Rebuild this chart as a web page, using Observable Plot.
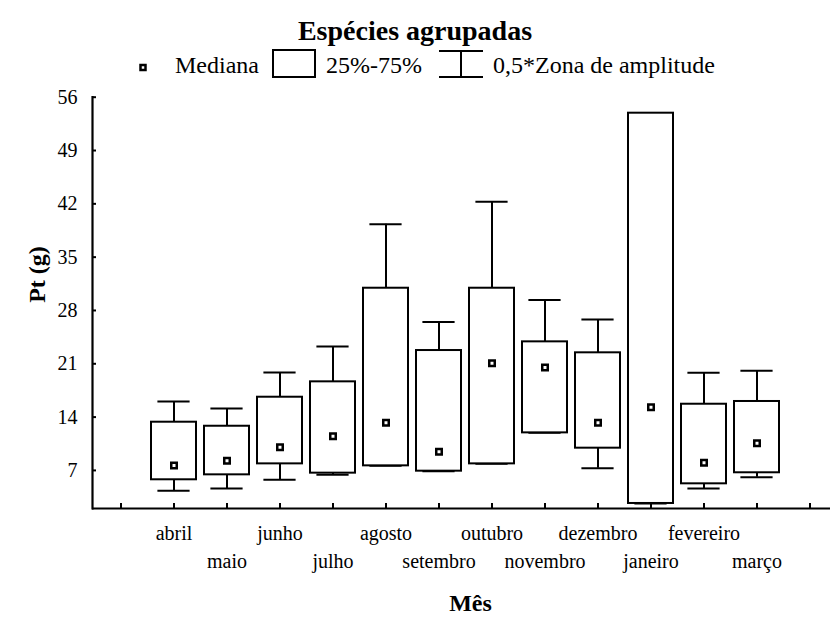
<!DOCTYPE html>
<html>
<head>
<meta charset="utf-8">
<script src="https://cdn.jsdelivr.net/npm/d3@7"></script>
<script src="https://cdn.jsdelivr.net/npm/@observablehq/plot@0.6"></script>
<style>
  body { margin: 0; background: #fff; }
  #wrap { position: relative; width: 830px; height: 618px; font-family: "Liberation Serif", serif; background: #fff; }
  #head { position: absolute; left: 0; top: 0; }
  #chart { position: absolute; left: 0; top: 84px; }
</style>
</head>
<body>
<div id="wrap"><svg id="head" width="830" height="84"></svg><div id="chart"></div></div>
<script>
// ---- data ----
const meses   = ["abril","maio","junho","julho","agosto","setembro","outubro","novembro","dezembro","janeiro","fevereiro","março"];
const mediana = [7.64, 8.26, 10.05, 11.49, 13.25, 9.44, 21.08, 20.51, 13.25, 15.3, 8.0, 10.57];
const q1      = [5.77, 6.42, 7.86, 6.64, 7.6, 6.9, 7.86, 11.93, 9.92, 2.66, 5.24, 6.69];
const q3      = [13.33, 12.8, 16.61, 18.63, 30.92, 22.74, 30.92, 23.88, 22.44, 53.9, 15.69, 16.05];
const minimo  = [4.32, 4.63, 5.77, 6.42, 7.6, 6.9, 7.86, 11.93, 7.29, 2.66, 4.63, 6.11];
const maximo  = [16.05, 15.13, 19.85, 23.27, 39.32, 26.5, 42.26, 29.39, 26.81, 53.9, 19.81, 20.07];
const yTicks  = [7, 14, 21, 28, 35, 42, 49, 56];
const titulo  = "Espécies agrupadas";
const legenda = ["Mediana", "25%-75%", "0,5*Zona de amplitude"];
const xLabel  = "Mês";
const yLabel  = "Pt (g)";

const data = meses.map((m, i) => ({mes: m, mediana: mediana[i], q1: q1[i], q3: q3[i], lo: minimo[i], hi: maximo[i]}));
const slots = ["", ...meses, " "]; // empty tick slots at both ends

// ---- title + legend (above the plot) ----
const head = d3.select("#head");
head.append("text").attr("x", 415).attr("y", 40).attr("text-anchor", "middle")
  .attr("font-family", "Liberation Serif").attr("font-weight", "bold").attr("font-size", 28).text(titulo);
const lg = head.append("g").attr("font-family", "Liberation Serif").attr("font-size", 24);
lg.append("rect").attr("x", 140.5).attr("y", 65).attr("width", 5).attr("height", 5)
  .attr("fill", "white").attr("stroke", "black").attr("stroke-width", 2.5);
lg.append("text").attr("x", 175).attr("y", 73).text(legenda[0]);
lg.append("rect").attr("x", 273).attr("y", 50).attr("width", 42).attr("height", 27)
  .attr("fill", "white").attr("stroke", "black").attr("stroke-width", 2);
lg.append("text").attr("x", 326).attr("y", 73).text(legenda[1]);
const wk = lg.append("g").attr("stroke", "black").attr("stroke-width", 2);
wk.append("line").attr("x1", 439).attr("x2", 483).attr("y1", 51).attr("y2", 51);
wk.append("line").attr("x1", 439).attr("x2", 483).attr("y1", 77).attr("y2", 77);
wk.append("line").attr("x1", 461).attr("x2", 461).attr("y1", 51).attr("y2", 77);
lg.append("text").attr("x", 493).attr("y", 73).text(legenda[2]);

// ---- plot ----
const chart = Plot.plot({
  width: 830,
  height: 534,
  marginLeft: 92,
  marginRight: 0,
  marginTop: 12.7,
  marginBottom: 110,
  style: {fontFamily: "Liberation Serif", fontSize: "20px", color: "black", background: "white", overflow: "visible"},
  x: {type: "band", domain: slots, range: [92, 837], paddingInner: 0.16, paddingOuter: 0.07, align: 0.5},
  y: {domain: [2, 56]},
  marks: [
    Plot.ruleX(data, {x: "mes", y1: "q3", y2: "hi", stroke: "black", strokeWidth: 2}),
    Plot.ruleX(data, {x: "mes", y1: "lo", y2: "q1", stroke: "black", strokeWidth: 2}),
    Plot.tickY(data, {x: "mes", y: "hi", insetLeft: 6.4, insetRight: 6.4, stroke: "black", strokeWidth: 2}),
    Plot.tickY(data, {x: "mes", y: "lo", insetLeft: 6.4, insetRight: 6.4, stroke: "black", strokeWidth: 2}),
    Plot.barY(data, {x: "mes", y1: "q1", y2: "q3", fill: "white", stroke: "black", strokeWidth: 2}),
    Plot.dot(data, {x: "mes", y: "mediana", symbol: "square", r: 3.1, fill: "white", stroke: "black", strokeWidth: 2.5}),
    Plot.ruleY([2], {stroke: "black", strokeWidth: 2.2}),
    Plot.frame({anchor: "left", stroke: "black", strokeWidth: 2.2}),
    // inward tick marks
    Plot.axisY({ticks: yTicks, tickSize: 4, dx: 4, tickFormat: () => "", strokeWidth: 2, label: null}),
    Plot.axisX({ticks: slots, tickSize: 5, dy: -5, tickFormat: () => "", strokeWidth: 2, label: null}),
    // tick labels
    Plot.axisY({ticks: yTicks, tickSize: 0, tickPadding: 15, label: null}),
    Plot.axisX({ticks: meses.filter((d, i) => i % 2 === 0), tickSize: 0, tickPadding: 25, lineAnchor: "middle", label: null}),
    Plot.axisX({ticks: meses.filter((d, i) => i % 2 === 1), tickSize: 0, tickPadding: 53, lineAnchor: "middle", label: null}),
    Plot.text([xLabel], {frameAnchor: "bottom", dx: 9, dy: 102, text: d => d, fontWeight: "bold", fontSize: 24}),
    Plot.text([yLabel], {frameAnchor: "left", dx: -55, rotate: -90, text: d => d, fontWeight: "bold", fontSize: 24})
  ]
});
document.getElementById("chart").appendChild(chart);
</script>
</body>
</html>
